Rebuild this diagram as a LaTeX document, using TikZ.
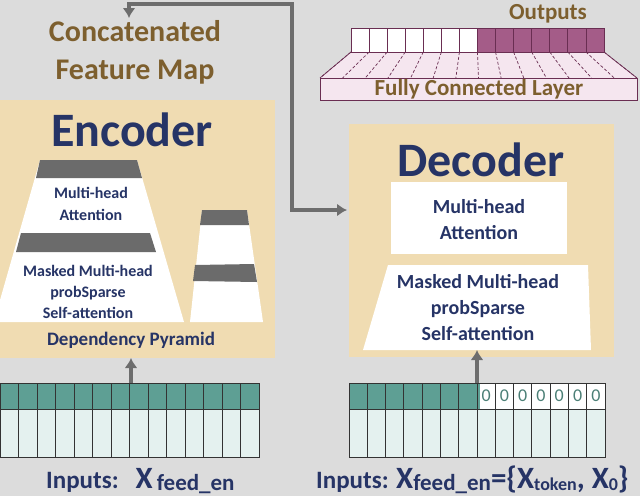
\documentclass[tikz,border=0pt]{standalone}
\usepackage{fontspec}
\setmainfont{Carlito}
\begin{document}
\begin{tikzpicture}[x=1pt,y=-1pt,
  navy/.style={text=navyc,font=\bfseries},
  brown/.style={text=brownc,font=\bfseries},
  arr/.style={draw=arrc,line width=3.5pt,-{Latex[length=10pt,width=13pt]}},
  band/.style={fill=bandc}]
\usetikzlibrary{arrows.meta}
\definecolor{bg}{HTML}{DCDCDC}
\definecolor{box}{HTML}{F0DCB2}
\definecolor{navyc}{HTML}{263466}
\definecolor{brownc}{HTML}{7D5F2E}
\definecolor{bandc}{HTML}{6B6B6B}
\definecolor{arrc}{HTML}{6D6D6D}
\definecolor{teal}{HTML}{5E9F94}
\definecolor{lteal}{HTML}{E4F1EF}
\definecolor{purp}{HTML}{A45C88}
\definecolor{lpink}{HTML}{F5E6EF}
\definecolor{pborder}{HTML}{6A2E52}
\fill[bg] (0,0) rectangle (640,496);
\useasboundingbox (0,0) rectangle (640,496);
% Encoder box
\fill[box] (0,100) rectangle (275,358);
\node[navy,font=\bfseries\fontsize{48}{48}\selectfont] (enc) at (132,130) {Encoder};
% large trapezoid
\fill[white] (40,160) -- (137,160) -- (184,322) -- (0,322) -- (0,300) -- cycle;
\fill[band] (40,160) -- (137,160) -- (142,178) -- (36,178) -- cycle;
\fill[band] (21,233) -- (150,233) -- (156,252) -- (16,252) -- cycle;
\node[navy,font=\bfseries\fontsize{16}{22}\selectfont,align=center] (mha1) at (91,204) {Multi-head\\Attention};
\node[navy,font=\bfseries\fontsize{16}{21}\selectfont,align=center] (mask1) at (88,292) {Masked Multi-head\\probSparse\\Self-attention};
% small trapezoid
\fill[white] (202,210) -- (247,210) -- (263,322) -- (190,322) -- cycle;
\fill[band] (202,210) -- (247,210) -- (249,225) -- (200,225) -- cycle;
\fill[band] (195,265) -- (254,264) -- (257,282) -- (193,281) -- cycle;
\node[navy,font=\bfseries\fontsize{19}{19}\selectfont] (dep) at (131,340) {Dependency Pyramid};
% Encoder inputs
\fill[teal] (0,383) rectangle (259,409);
\fill[lteal] (0,409) rectangle (259,457);
\foreach \i in {0,...,14} \draw[black!80,line width=1pt] ({\i*18.5},383) -- ({\i*18.5},457);
\draw[black!80,line width=1pt] (0,383) rectangle (259,457) (0,409) -- (259,409);
\coordinate (encin) at (131,383);
\coordinate (encbot) at (131,358);
\draw[arr] (encin) -- (encbot);
\node[navy,anchor=base west,inner sep=0pt,font=\bfseries\fontsize{25}{25}\selectfont] (inen) at (46,488) {Inputs:\ \ \ {\fontsize{31}{31}\selectfont X}\,{\fontsize{23}{23}\selectfont\raisebox{-2pt}{feed\_en}}};
% Decoder box
\fill[box] (349,124) rectangle (614,357);
\node[navy,font=\bfseries\fontsize{48}{48}\selectfont] (dec) at (481,160) {Decoder};
\fill[white] (391,182) rectangle (567,254);
\node[navy,font=\bfseries\fontsize{20}{26}\selectfont,align=center] (mha2) at (479,220) {Multi-head\\Attention};
\fill[white] (388,265) -- (588,265) -- (591,350) -- (363,350) -- cycle;
\node[navy,font=\bfseries\fontsize{20}{26}\selectfont,align=center] (mask2) at (478,308) {Masked Multi-head\\probSparse\\Self-attention};
% Decoder inputs
\fill[teal] (349,383) rectangle (480,409);
\fill[white] (480,383) rectangle (605,409);
\fill[lteal] (349,409) rectangle (605,457);
\foreach \i in {0,...,14} \draw[black!80,line width=1pt] ({349+\i*18.29},383) -- ({349+\i*18.29},457);
\draw[black!80,line width=1pt] (349,383) rectangle (605,457) (349,409) -- (605,409);
\foreach \i in {7,...,13} \node[text=teal!80!black,font=\fontsize{18}{18}\selectfont] (z\i) at ({349+\i*18.29+9.1},396) {0};
\coordinate (decin) at (477,383);
\coordinate (decbot) at (477,350);
\draw[arr] (decin) -- (decbot);
\node[navy,anchor=base west,font=\bfseries\fontsize{25}{25}\selectfont,inner sep=0pt] (inde) at (316,488) {Inputs: {\fontsize{31}{31}\selectfont X}{\fontsize{23}{23}\selectfont\raisebox{-2pt}{feed\_en}}{\fontsize{31}{31}\selectfont =\{X}{\fontsize{18}{18}\selectfont\raisebox{-2pt}{token}}{\fontsize{31}{31}\selectfont , X}{\fontsize{18}{18}\selectfont\raisebox{-2pt}{0}}{\fontsize{31}{31}\selectfont \}}};
% FC layer
\fill[lpink] (351,52) -- (604,52) -- (637,78) -- (320,78) -- cycle;
\foreach \i in {0,...,14} \draw[pborder,densely dashed,line width=0.7pt] ({351+\i*18.07},52) -- ({320+\i*22.64},78);
\draw[pborder,line width=0.7pt] (351,52) -- (320,78) (604,52) -- (637,78);
\fill[white] (351,28) rectangle (478,52);
\fill[purp] (478,28) rectangle (604,52);
\foreach \i in {0,...,14} \draw[pborder,line width=0.8pt] ({351+\i*18.07},28) -- ({351+\i*18.07},52);
\draw[pborder,line width=0.8pt] (351,28) rectangle (604,52);
\node[draw=pborder,fill=lpink,line width=0.8pt,minimum width=317pt,minimum height=22pt,inner sep=0pt,anchor=north west] (fc) at (320,78) {};
\node[brown,font=\bfseries\fontsize{23}{23}\selectfont] (fct) at (fc.center) {Fully Connected Layer};
\node[brown,font=\bfseries\fontsize{23}{23}\selectfont] (outs) at (548,14) {Outputs};
% Concatenated
\node[brown,font=\bfseries\fontsize{30}{38}\selectfont,align=center] (cat) at (135,52) {Concatenated\\Feature Map};
% arrow
\coordinate (ca) at (129,18);
\coordinate (da) at (347,210);
\draw[draw=arrc,line width=3.5pt,{Latex[length=10pt,width=13pt]}-{Latex[length=10pt,width=13pt]}] (ca) -- (129,4) -- (292,4) -- (292,210) -- (da);
\end{tikzpicture}
\end{document}
